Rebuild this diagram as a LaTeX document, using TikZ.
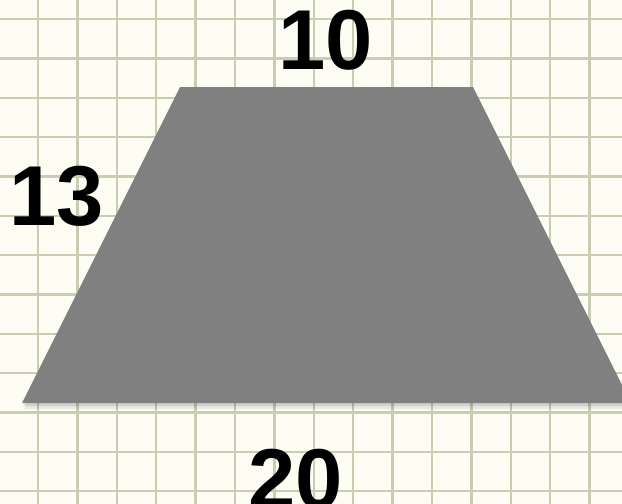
\documentclass[tikz,border=0pt]{standalone}
\usepackage{fontspec}
\setmainfont{Liberation Sans}
\definecolor{paper}{RGB}{253,253,244}
\definecolor{gridc}{RGB}{203,205,178}
\definecolor{trapfill}{RGB}{128,128,128}
\tikzset{
  lab/.style={font=\bfseries\fontsize{85}{85}\selectfont, text=black, inner sep=0pt, anchor=center},
  gridline/.style={draw=gridc, line width=2.4pt}
}
\begin{document}
\begin{tikzpicture}[x=1pt,y=-1pt]
\useasboundingbox (0,0) rectangle (622,504);
\fill[paper] (0,0) rectangle (622,504);
\begin{scope}
\clip (0,0) rectangle (622,504);
\foreach \k in {0,...,15} {\draw[gridline] ({38+39.4*(\k-1)},0) -- ({38+39.4*(\k-1)},504);}
\foreach \k in {0,...,13} {\draw[gridline] (0,{19+39.35*(\k-1)}) -- (622,{19+39.35*(\k-1)});}
\coordinate (tl) at (180,87);
\coordinate (tr) at (473,87);
\coordinate (br) at (631,403);
\coordinate (bl) at (22,403);
\fill[black, opacity=0.08] ([shift={(2,6)}]tl) -- ([shift={(2,6)}]tr) -- ([shift={(2,6)}]br) -- ([shift={(2,6)}]bl) -- cycle;
\fill[black, opacity=0.10] ([shift={(1,3)}]tl) -- ([shift={(1,3)}]tr) -- ([shift={(1,3)}]br) -- ([shift={(1,3)}]bl) -- cycle;
\fill[trapfill] (tl) -- (tr) -- (br) -- (bl) -- cycle;
\end{scope}
\node[lab] (top) at (326,40) {10};
\node[lab] (left) at (57,196) {13};
\node[lab] (bottom) at (296,479) {20};
\end{tikzpicture}
\end{document}
